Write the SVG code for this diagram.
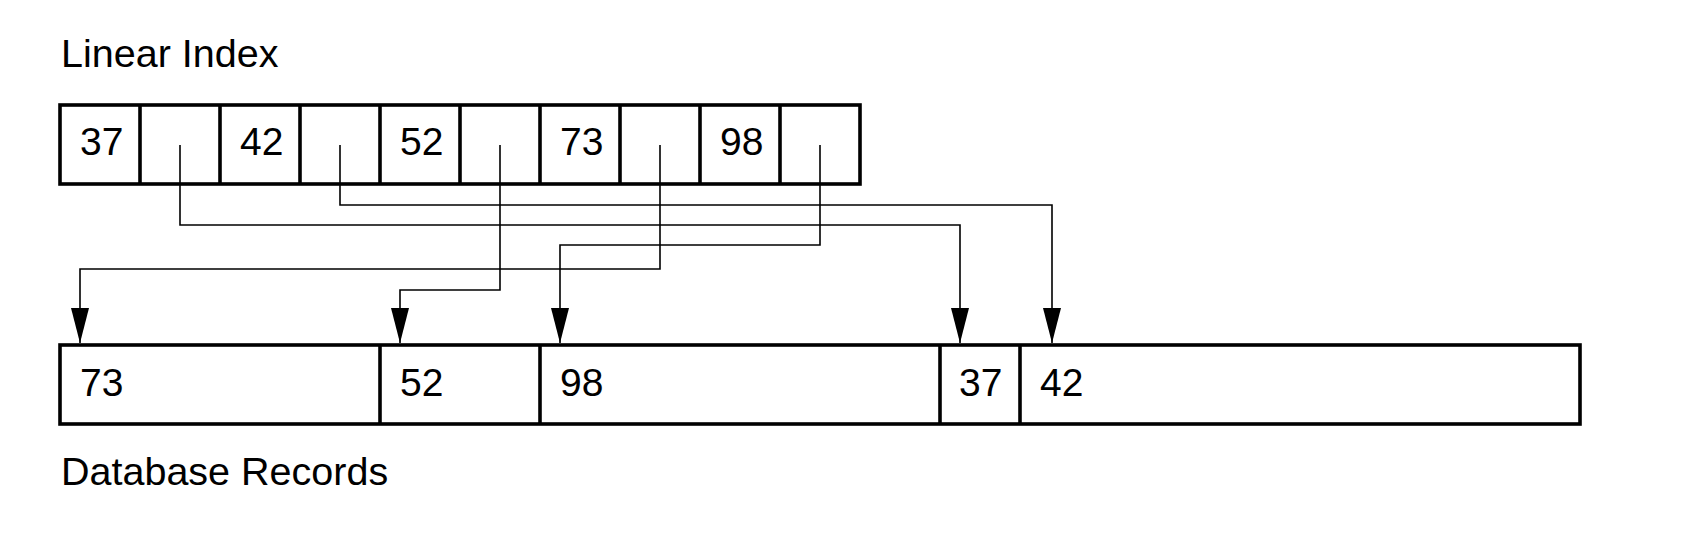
<svg xmlns="http://www.w3.org/2000/svg" width="1698" height="539" viewBox="0 0 1698 539">
<style>
.box{fill:#fff;stroke:#000;stroke-width:3.6}
.div{stroke:#000;stroke-width:3.6}
.lbl{font-family:"Liberation Sans",Arial,sans-serif;font-size:39.5px;fill:#000}
.num{font-family:"Liberation Sans",Arial,sans-serif;font-size:39px;fill:#000}
.conn{fill:none;stroke:#000;stroke-width:1.6;marker-end:url(#arr)}
</style>
<defs>
<marker id="arr" markerUnits="userSpaceOnUse" markerWidth="36" markerHeight="20" refX="35" refY="9" orient="auto">
<path d="M0,0 L35,9 L0,18 Z" fill="#000"/>
</marker>
</defs>
<rect width="1698" height="539" fill="#fff"/>
<text class="lbl" x="61" y="67">Linear Index</text>
<text class="lbl" x="61" y="485">Database Records</text>
<g id="linear-index">
<rect class="box" x="60" y="105" width="800" height="79"/>
<line class="div" x1="140" y1="105" x2="140" y2="184"/>
<line class="div" x1="220" y1="105" x2="220" y2="184"/>
<line class="div" x1="300" y1="105" x2="300" y2="184"/>
<line class="div" x1="380" y1="105" x2="380" y2="184"/>
<line class="div" x1="460" y1="105" x2="460" y2="184"/>
<line class="div" x1="540" y1="105" x2="540" y2="184"/>
<line class="div" x1="620" y1="105" x2="620" y2="184"/>
<line class="div" x1="700" y1="105" x2="700" y2="184"/>
<line class="div" x1="780" y1="105" x2="780" y2="184"/>
<text class="num" x="80" y="155">37</text>
<text class="num" x="240" y="155">42</text>
<text class="num" x="400" y="155">52</text>
<text class="num" x="560" y="155">73</text>
<text class="num" x="720" y="155">98</text>
</g>
<g id="database-records">
<rect class="box" x="60" y="345" width="1520" height="79"/>
<line class="div" x1="380" y1="345" x2="380" y2="424"/>
<line class="div" x1="540" y1="345" x2="540" y2="424"/>
<line class="div" x1="940" y1="345" x2="940" y2="424"/>
<line class="div" x1="1020" y1="345" x2="1020" y2="424"/>
<text class="num" x="80" y="396">73</text>
<text class="num" x="400" y="396">52</text>
<text class="num" x="560" y="396">98</text>
<text class="num" x="959" y="396">37</text>
<text class="num" x="1040" y="396">42</text>
</g>
<g id="connectors">
<path class="conn" d="M180,145 V225 H960 V343"/>
<path class="conn" d="M340,145 V205 H1052 V343"/>
<path class="conn" d="M500,145 V290 H400 V343"/>
<path class="conn" d="M660,145 V269 H80 V343"/>
<path class="conn" d="M820,145 V245 H560 V343"/>
</g>
</svg>
